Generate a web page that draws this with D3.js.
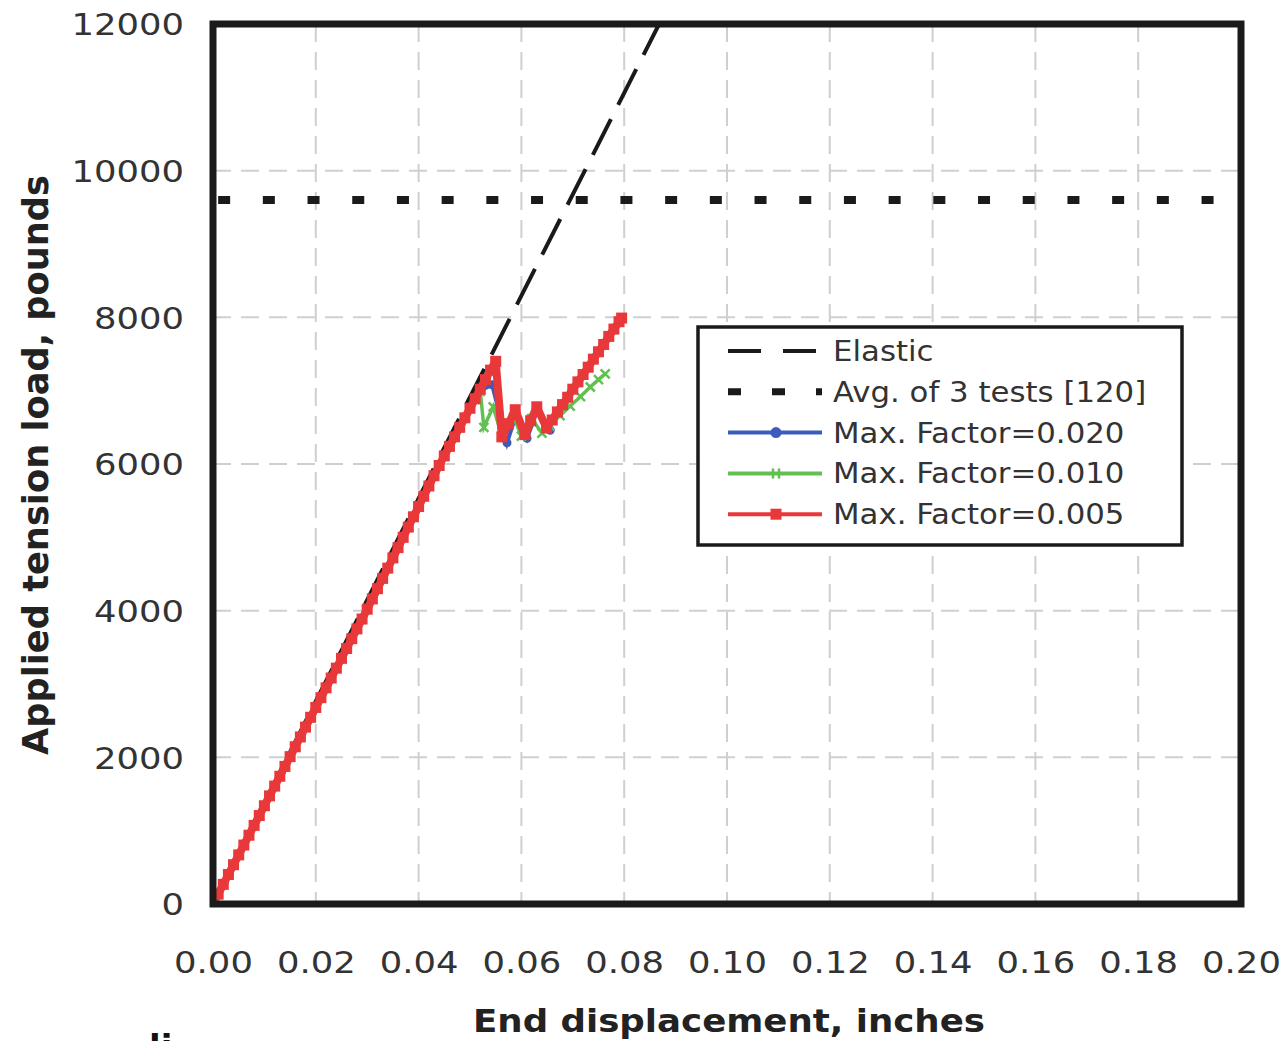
<!DOCTYPE html>
<html>
<head>
<meta charset="utf-8">
<script src="https://cdn.jsdelivr.net/npm/d3@7"></script>
<style>
	body { margin: 0; background: #fff; }
	svg { display: block; }
	text { font-family: "DejaVu Sans", Verdana, sans-serif; }
</style>
</head>
<body>
<div class="chart"></div>
<script>
// load vs end displacement for the tension model, with elastic line and test average

const xTicks = [0, 0.02, 0.04, 0.06, 0.08, 0.10, 0.12, 0.14, 0.16, 0.18, 0.20];
const yTicks = [0, 2000, 4000, 6000, 8000, 10000, 12000];

const elasticDisp = [0, 0.0868];
const elasticLoad = [0, 12000];

const avgDisp = [0.001, 0.195];
const avgLoad = [9600, 9600];

// Max. Factor=0.005
const redDisp = [0, 0.001, 0.002, 0.003, 0.004, 0.005, 0.006, 0.007, 0.008, 0.009,
	0.010, 0.011, 0.012, 0.013, 0.014, 0.015, 0.016, 0.017, 0.018, 0.019,
	0.020, 0.021, 0.022, 0.023, 0.024, 0.025, 0.026, 0.027, 0.028, 0.029,
	0.030, 0.031, 0.032, 0.033, 0.034, 0.035, 0.036, 0.037, 0.038, 0.039,
	0.040, 0.041, 0.042, 0.043, 0.044, 0.045, 0.046, 0.047, 0.048, 0.049,
	0.050, 0.051, 0.052, 0.053, 0.054, 0.055, 0.0562, 0.0575, 0.0588, 0.0607,
	0.0618, 0.0630, 0.0649, 0.066, 0.067, 0.068, 0.069, 0.070, 0.071, 0.072,
	0.073, 0.074, 0.075, 0.076, 0.077, 0.078, 0.079, 0.0795];
const redLoad = [0, 134, 268, 402, 536, 670, 804, 938, 1072, 1206,
	1340, 1474, 1608, 1742, 1876, 2010, 2144, 2278, 2412, 2546,
	2680, 2814, 2948, 3082, 3216, 3350, 3484, 3618, 3752, 3886,
	4020, 4160, 4300, 4440, 4580, 4720, 4860, 5000, 5140, 5280,
	5420, 5560, 5700, 5840, 5980, 6110, 6240, 6370, 6500, 6630,
	6760, 6890, 7020, 7150, 7280, 7400, 6370, 6550, 6740, 6400,
	6590, 6780, 6490, 6600, 6710, 6810, 6910, 7020, 7120, 7220,
	7320, 7430, 7530, 7630, 7740, 7840, 7940, 7990];

// Max. Factor=0.020
const blueDisp = [0, 0.004, 0.008, 0.012, 0.016, 0.020, 0.024, 0.028, 0.032, 0.036,
	0.040, 0.044, 0.048, 0.052, 0.0543, 0.0572, 0.0590, 0.0611, 0.0630, 0.0656];
const blueLoad = [0, 536, 1072, 1608, 2144, 2680, 3216, 3752, 4300, 4860,
	5420, 5980, 6500, 7000, 7080, 6290, 6680, 6350, 6720, 6460];

// Max. Factor=0.010
const greenDisp = [0, 0.004, 0.008, 0.012, 0.016, 0.020, 0.024, 0.028, 0.032, 0.036,
	0.040, 0.044, 0.048, 0.051, 0.052, 0.0527, 0.0545, 0.0562, 0.0585, 0.0600,
	0.0620, 0.0640, 0.0655, 0.0675, 0.0695, 0.0715, 0.0734, 0.0750, 0.0763];
const greenLoad = [0, 536, 1072, 1608, 2144, 2680, 3216, 3752, 4300, 4860,
	5420, 5980, 6500, 6880, 6990, 6500, 6780, 6380, 6640, 6380,
	6620, 6420, 6520, 6660, 6790, 6920, 7050, 7150, 7230];

const legendLabels = ["Elastic", "Avg. of 3 tests [120]", "Max. Factor=0.020", "Max. Factor=0.010", "Max. Factor=0.005"];

const RED = "#e8383a", BLUE = "#3c5cbc", GREEN = "#62c052";

let width = 1285, height = 1041;
let plotL = 213, plotR = 1241, plotT = 24, plotB = 904;

let svg = d3.select(".chart")
	.append("svg")
	.attr("width", width)
	.attr("height", height);

let x = d3.scaleLinear().domain([0, 0.2]).range([plotL, plotR]);
let y = d3.scaleLinear().domain([0, 12000]).range([plotB, plotT]);

let zip = (xs, ys) => xs.map((d, i) => [d, ys[i]]);
let line = d3.line().x(d => x(d[0])).y(d => y(d[1]));

svg.append("clipPath").attr("id", "plot")
	.append("rect")
	.attr("x", plotL).attr("y", plotT)
	.attr("width", plotR - plotL).attr("height", plotB - plotT);

// dashed grid
let grid = svg.append("g").attr("stroke", "#cfcfcf").attr("stroke-width", 2).attr("stroke-dasharray", "18,10");
grid.selectAll(".gx").data(xTicks.slice(1, -1)).enter().append("line")
	.attr("x1", d => x(d)).attr("x2", d => x(d))
	.attr("y1", plotT).attr("y2", plotB);
grid.selectAll(".gy").data(yTicks.slice(1, -1)).enter().append("line")
	.attr("x1", plotL).attr("x2", plotR)
	.attr("y1", d => y(d)).attr("y2", d => y(d));

// axes, labels only
let xAxis = svg.append("g")
	.attr("transform", `translate(0,${plotB})`)
	.call(d3.axisBottom(x).tickValues(xTicks).tickSize(0).tickFormat(d3.format(".2f")));
let yAxis = svg.append("g")
	.attr("transform", `translate(${plotL},0)`)
	.call(d3.axisLeft(y).tickValues(yTicks).tickSize(0).tickFormat(d3.format("d")));

[xAxis, yAxis].forEach(a => {
	a.select(".domain").remove();
	a.selectAll("text")
		.attr("font-family", "DejaVu Sans, Verdana, sans-serif")
		.attr("font-size", 30)
		.attr("fill", "#333");
});
xAxis.selectAll("text").attr("y", 69).attr("dy", 0).attr("transform", "scale(1.18,1)");
yAxis.selectAll("text").attr("x", -29 / 1.18).attr("dy", "0.36em").attr("transform", "scale(1.18,1)");

// series
let plot = svg.append("g").attr("clip-path", "url(#plot)");

plot.append("path")
	.attr("d", line(zip(elasticDisp, elasticLoad)))
	.attr("fill", "none").attr("stroke", "#1a1a1a")
	.attr("stroke-width", 4).attr("stroke-dasharray", "40,16");

plot.append("path")
	.attr("d", line(zip(avgDisp, avgLoad)))
	.attr("fill", "none").attr("stroke", "#1a1a1a")
	.attr("stroke-width", 8).attr("stroke-dasharray", "12,32.7");

let blue = zip(blueDisp, blueLoad);
plot.append("path").attr("d", line(blue))
	.attr("fill", "none").attr("stroke", BLUE).attr("stroke-width", 4);
plot.selectAll(".blue").data(blue).enter().append("circle")
	.attr("cx", d => x(d[0])).attr("cy", d => y(d[1]))
	.attr("r", 4.5).attr("fill", BLUE);

let green = zip(greenDisp, greenLoad);
plot.append("path").attr("d", line(green))
	.attr("fill", "none").attr("stroke", GREEN).attr("stroke-width", 3.5);
plot.selectAll(".green").data(green).enter().append("path")
	.attr("transform", d => `translate(${x(d[0])},${y(d[1])})`)
	.attr("d", "M-4.5,-4.5L4.5,4.5M-4.5,4.5L4.5,-4.5")
	.attr("stroke", GREEN).attr("stroke-width", 2.5);

let red = zip(redDisp, redLoad);
plot.append("path").attr("d", line(red))
	.attr("fill", "none").attr("stroke", RED).attr("stroke-width", 8)
	.attr("stroke-linejoin", "round");
plot.selectAll(".red").data(red).enter().append("rect")
	.attr("x", d => x(d[0]) - 5.5).attr("y", d => y(d[1]) - 5.5)
	.attr("width", 11).attr("height", 11).attr("fill", RED);

// frame
svg.append("rect")
	.attr("x", plotL).attr("y", plotT)
	.attr("width", plotR - plotL).attr("height", plotB - plotT)
	.attr("fill", "none").attr("stroke", "#1a1a1a").attr("stroke-width", 7);

// legend
let lg = svg.append("g");
lg.append("rect")
	.attr("x", 698).attr("y", 327).attr("width", 484).attr("height", 218)
	.attr("fill", "#fff").attr("stroke", "#1a1a1a").attr("stroke-width", 3.5);

let rowY = i => 351 + i * 40.8;
let x0 = 728, x1 = 822, xm = 776;

lg.append("line").attr("x1", x0).attr("x2", x1).attr("y1", rowY(0)).attr("y2", rowY(0))
	.attr("stroke", "#1a1a1a").attr("stroke-width", 4).attr("stroke-dasharray", "33,22");
lg.append("line").attr("x1", x0).attr("x2", x1).attr("y1", rowY(1)).attr("y2", rowY(1))
	.attr("stroke", "#1a1a1a").attr("stroke-width", 7).attr("stroke-dasharray", "13,31");

lg.append("line").attr("x1", x0).attr("x2", x1).attr("y1", rowY(2)).attr("y2", rowY(2))
	.attr("stroke", BLUE).attr("stroke-width", 4);
lg.append("circle").attr("cx", xm).attr("cy", rowY(2)).attr("r", 5.5).attr("fill", BLUE);

lg.append("line").attr("x1", x0).attr("x2", x1).attr("y1", rowY(3)).attr("y2", rowY(3))
	.attr("stroke", GREEN).attr("stroke-width", 4);
lg.append("path").attr("transform", `translate(${xm},${rowY(3)})`)
	.attr("d", "M-3,-5L-3,5M3,-5L3,5")
	.attr("stroke", GREEN).attr("stroke-width", 2.5);

lg.append("line").attr("x1", x0).attr("x2", x1).attr("y1", rowY(4)).attr("y2", rowY(4))
	.attr("stroke", RED).attr("stroke-width", 4);
lg.append("rect").attr("x", xm - 5.5).attr("y", rowY(4) - 5.5)
	.attr("width", 11).attr("height", 11).attr("fill", RED);

lg.selectAll(".lbl").data(legendLabels).enter().append("text")
	.attr("transform", (d, i) => `translate(833,${rowY(i) + 10}) scale(1.12,1)`)
	.attr("font-size", 27.5)
	.attr("fill", "#333")
	.text(d => d);

// axis titles
svg.append("text")
	.attr("x", 473).attr("y", 1032)
	.attr("font-size", 32).attr("font-weight", "bold").attr("fill", "#222")
	.attr("textLength", 512).attr("lengthAdjust", "spacingAndGlyphs")
	.text("End displacement, inches");

svg.append("text")
	.attr("transform", "translate(48,755) rotate(-90)")
	.attr("font-size", 35).attr("font-weight", "bold").attr("fill", "#222")
	.attr("textLength", 580).attr("lengthAdjust", "spacingAndGlyphs")
	.text("Applied tension load, pounds");

// start of the caption line below, cut by the page edge
svg.append("text")
	.attr("x", 149).attr("y", 1059)
	.attr("font-size", 34).attr("font-weight", "bold").attr("fill", "#111")
	.text("li");
</script>
</body>
</html>
